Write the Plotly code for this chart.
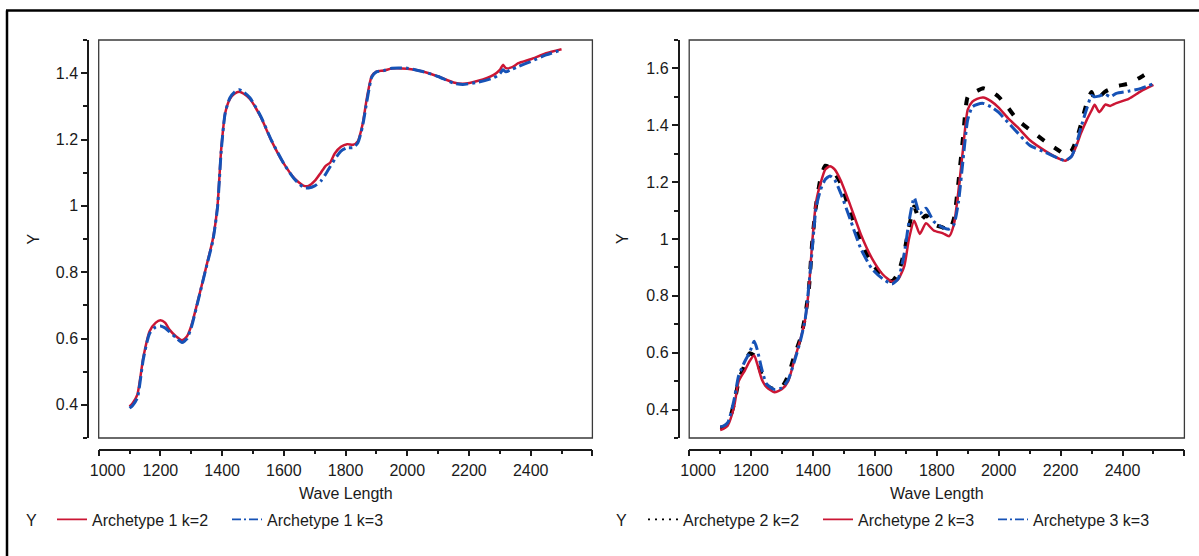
import plotly.graph_objects as go

# ---------------- data ----------------
wl_left = [1100, 1110, 1125, 1145, 1165, 1185, 1200, 1215, 1230, 1250, 1270, 1285, 1300, 1325,
           1350, 1370, 1385, 1397, 1410, 1425, 1440, 1455, 1470, 1490, 1525, 1560, 1600, 1635,
           1665, 1680, 1700, 1720, 1735, 1750, 1765, 1785, 1805, 1825, 1840, 1855, 1870, 1885,
           1900, 1925, 1950, 2000, 2050, 2100, 2150, 2180, 2230, 2280, 2300, 2310, 2320, 2340,
           2360, 2400, 2450, 2500]
arch1_k2 = [0.395, 0.405, 0.43, 0.545, 0.622, 0.648, 0.655, 0.648, 0.626, 0.607, 0.595, 0.605,
            0.638, 0.727, 0.822, 0.90, 1.0, 1.17, 1.28, 1.322, 1.338, 1.344, 1.338, 1.322, 1.268,
            1.196, 1.127, 1.082, 1.06, 1.06, 1.075, 1.10, 1.12, 1.13, 1.158, 1.178, 1.186, 1.184,
            1.195, 1.245, 1.33, 1.392, 1.405, 1.408, 1.414, 1.413, 1.405, 1.39, 1.372, 1.368,
            1.377, 1.395, 1.41, 1.425, 1.415, 1.418, 1.43, 1.442, 1.46, 1.472]
arch1_k3 = [0.39, 0.398, 0.42, 0.54, 0.615, 0.635, 0.638, 0.632, 0.62, 0.603, 0.588, 0.598,
            0.633, 0.725, 0.82, 0.895, 0.995, 1.165, 1.28, 1.325, 1.343, 1.35, 1.343, 1.326, 1.27,
            1.197, 1.127, 1.08, 1.055, 1.054, 1.06, 1.075, 1.095, 1.118, 1.14, 1.165, 1.175, 1.176,
            1.19, 1.24, 1.32, 1.388, 1.404, 1.408, 1.415, 1.415, 1.405, 1.39, 1.37, 1.366,
            1.373, 1.386, 1.398, 1.41, 1.404, 1.412, 1.42, 1.435, 1.455, 1.47]

wl_right = [1100, 1110, 1125, 1145, 1160, 1180, 1195, 1210, 1220, 1235, 1250, 1275, 1300, 1320,
            1340, 1360, 1375, 1387, 1398, 1410, 1425, 1440, 1455, 1470, 1490, 1520, 1555, 1590,
            1625, 1655, 1675, 1695, 1710, 1727, 1745, 1765, 1790, 1820, 1840, 1855, 1870, 1885,
            1900, 1915, 1930, 1950, 1975, 2000, 2030, 2060, 2100, 2150, 2200, 2215, 2235, 2250,
            2265, 2285, 2300, 2310, 2325, 2345, 2360, 2380, 2420, 2460, 2500]
arch2_k2 = [0.335, 0.337, 0.35, 0.422, 0.5, 0.56, 0.598, 0.59, 0.57, 0.52, 0.485, 0.471, 0.48,
            0.52, 0.59, 0.653, 0.73, 0.83, 0.996, 1.12, 1.215, 1.258, 1.25, 1.232, 1.195, 1.095,
            0.99, 0.915, 0.872, 0.852, 0.88, 0.955, 1.04, 1.114, 1.064, 1.083, 1.052, 1.04, 1.03,
            1.07, 1.2, 1.36, 1.5, 1.512, 1.521, 1.53, 1.52, 1.5, 1.462, 1.42, 1.385, 1.343, 1.307,
            1.296, 1.31, 1.345, 1.4, 1.48, 1.517, 1.49, 1.5, 1.519, 1.527, 1.537, 1.547, 1.57, 1.598]
arch2_k3 = [0.328, 0.332, 0.345, 0.41, 0.50, 0.538, 0.57, 0.59, 0.56, 0.505, 0.479, 0.461, 0.472,
            0.50, 0.575, 0.65, 0.72, 0.83, 0.995, 1.13, 1.198, 1.245, 1.256, 1.245, 1.205, 1.12,
            1.015, 0.933, 0.876, 0.85, 0.858, 0.905, 1.0, 1.064, 1.018, 1.055, 1.03, 1.02, 1.01,
            1.05, 1.17, 1.32, 1.455, 1.483, 1.493, 1.498, 1.485, 1.462, 1.425, 1.394, 1.348, 1.31,
            1.28, 1.275, 1.29, 1.325, 1.37, 1.42, 1.452, 1.472, 1.446, 1.473, 1.468, 1.478, 1.493,
            1.52, 1.542]
arch3_k3 = [0.34, 0.342, 0.355, 0.435, 0.52, 0.57, 0.6, 0.64, 0.61, 0.54, 0.49, 0.471, 0.477,
            0.505, 0.57, 0.645, 0.72, 0.84, 0.97, 1.11, 1.175, 1.21, 1.222, 1.208, 1.16, 1.07,
            0.965, 0.896, 0.86, 0.842, 0.86, 0.95, 1.06, 1.145, 1.089, 1.108, 1.062, 1.04, 1.035,
            1.05, 1.13, 1.28, 1.42, 1.465, 1.473, 1.477, 1.465, 1.445, 1.41, 1.375, 1.33, 1.305,
            1.28, 1.276, 1.29, 1.33, 1.39, 1.46, 1.505, 1.5, 1.503, 1.509, 1.5, 1.512, 1.52,
            1.53, 1.546]

x_tickvals = [1000, 1200, 1400, 1600, 1800, 2000, 2200, 2400, 2600]
x_ticktext = ["\u2007\u20071000", "1200", "1400", "1600", "1800", "2000", "2200", "2400", ""]
yl_tickvals = [0.4, 0.6, 0.8, 1.0, 1.2, 1.4]
yl_ticktext = ["0.4", "0.6", "0.8", "1", "1.2", "1.4"]
yr_tickvals = [0.4, 0.6, 0.8, 1.0, 1.2, 1.4, 1.6]
yr_ticktext = ["0.4", "0.6", "0.8", "1", "1.2", "1.4", "1.6"]

# ---------------- styling ----------------
W, H = 1199, 556
FONT = "Liberation Sans, Arial, sans-serif"
TXT = "#1a1a1a"
RED = "#CB1634"
BLUE = "#1652B6"
BLACK = "#000000"
DASHDOT = "12px,4px,3px,4px"

def px(x):
    return x / W

def py(y):
    return 1 - y / H

frame_top, frame_bot = 40, 438
left_x0, left_x1 = 98.7, 592.4
right_x0, right_x1 = 689.2, 1184.4
legend_y = 519.5

fig = go.Figure()

def curve(x, y, color, width, dash, xa, ya):
    return go.Scatter(x=x, y=y, mode="lines", showlegend=False, hoverinfo="x+y",
                      line=dict(color=color, width=width, dash=dash,
                                shape="spline", smoothing=0.6),
                      xaxis=xa, yaxis=ya)

def key(name, color, dash, lg):
    # legend entry (drawn thin, like the reference key)
    return go.Scatter(x=[None], y=[None], mode="lines", name=name,
                      line=dict(color=color, width=1.6, dash=dash),
                      xaxis="x", yaxis="y", legend=lg)

# left panel
fig.add_trace(curve(wl_left, arch1_k2, RED, 2.5, "solid", "x", "y"))
fig.add_trace(curve(wl_left, arch1_k3, BLUE, 3, DASHDOT, "x", "y"))
# right panel
fig.add_trace(curve(wl_right, arch2_k2, BLACK, 4, "8px,12px", "x2", "y2"))
fig.add_trace(curve(wl_right, arch2_k3, RED, 2.5, "solid", "x2", "y2"))
fig.add_trace(curve(wl_right, arch3_k3, BLUE, 3, DASHDOT, "x2", "y2"))

# legend keys
fig.add_trace(key("Archetype 1 k=2", RED, "solid", "legend"))
fig.add_trace(key("Archetype 1 k=3", BLUE, "9px,3px,2px,3px", "legend"))
fig.add_trace(key("Archetype 2 k=2", BLACK, "2px,5px", "legend2"))
fig.add_trace(key("Archetype 2 k=3", RED, "solid", "legend2"))
fig.add_trace(key("Archetype 3 k=3", BLUE, "9px,3px,2px,3px", "legend2"))

tickfont = dict(family=FONT, size=16, color=TXT)

def xaxis_cfg(x0, x1):
    return dict(domain=[px(x0), px(x1)], anchor="free", position=py(449.6),
                range=[1000, 2600], tickvals=x_tickvals, ticktext=x_ticktext,
                ticks="outside", ticklen=6, tickwidth=1.5, tickcolor=TXT,
                minor=dict(dtick=100, tick0=1000, ticks="outside", ticklen=4,
                           tickwidth=1.5, tickcolor=TXT),
                showline=True, linecolor=TXT, linewidth=1.5, showgrid=False,
                zeroline=False, tickfont=tickfont, fixedrange=True, automargin=False)

def yaxis_cfg(pos, rng, tv, tt):
    return dict(domain=[py(frame_bot), py(frame_top)], anchor="free", position=px(pos),
                range=rng, tickvals=tv, ticktext=tt,
                ticks="outside", ticklen=6, tickwidth=1.5, tickcolor=TXT,
                minor=dict(dtick=0.1, tick0=0.3, ticks="outside", ticklen=4,
                           tickwidth=1.5, tickcolor=TXT),
                showline=True, linecolor=TXT, linewidth=1.5, showgrid=False,
                zeroline=False, tickfont=tickfont, fixedrange=True, automargin=False)

legend_common = dict(orientation="h", yanchor="middle", y=py(legend_y), xanchor="left",
                     font=dict(family=FONT, size=16, color=TXT),
                     bgcolor="rgba(0,0,0,0)", borderwidth=0,
                     entrywidth=130, entrywidthmode="pixels", itemclick=False,
                     itemdoubleclick=False)

fig.update_layout(
    template="none",
    width=W, height=H, margin=dict(l=0, r=0, t=0, b=0, autoexpand=False),
    paper_bgcolor="white", plot_bgcolor="white",
    font=dict(family=FONT, size=16, color=TXT),
    xaxis=xaxis_cfg(left_x0, left_x1),
    yaxis=yaxis_cfg(88, [0.3, 1.5], yl_tickvals, yl_ticktext),
    xaxis2=xaxis_cfg(right_x0, right_x1),
    yaxis2=yaxis_cfg(678.5, [0.3, 1.7], yr_tickvals, yr_ticktext),
    legend=dict(x=px(52), **legend_common),
    legend2=dict(x=px(643), **legend_common),
    showlegend=True,
)

shapes = []
# plot frames
for x0, x1 in [(left_x0, left_x1), (right_x0, right_x1)]:
    shapes.append(dict(type="rect", xref="paper", yref="paper",
                       x0=px(x0), x1=px(x1), y0=py(frame_bot), y1=py(frame_top),
                       line=dict(color="#3a3a3a", width=1.3), layer="above"))
# outer border (top and left edges)
shapes.append(dict(type="line", xref="paper", yref="paper", x0=px(6), x1=1,
                   y0=py(10.5), y1=py(10.5), line=dict(color="black", width=2.5)))
shapes.append(dict(type="line", xref="paper", yref="paper", x0=px(7), x1=px(7),
                   y0=py(10.5), y1=0, line=dict(color="black", width=2.5)))
fig.update_layout(shapes=shapes)

annots = []
for cx in [(left_x0 + left_x1) / 2, (right_x0 + right_x1) / 2]:
    annots.append(dict(text="Wave Length", xref="paper", yref="paper", x=px(cx), y=py(493),
                       xanchor="center", yanchor="middle", showarrow=False,
                       font=dict(family=FONT, size=16, color=TXT)))
for cx in [32.5, 622]:
    annots.append(dict(text="Y", xref="paper", yref="paper", x=px(cx),
                       y=py((frame_top + frame_bot) / 2), textangle=-90,
                       xanchor="center", yanchor="middle", showarrow=False,
                       font=dict(family=FONT, size=16, color=TXT)))
# legend row labels
for cx in [31, 621]:
    annots.append(dict(text="Y", xref="paper", yref="paper", x=px(cx), y=py(legend_y + 1),
                       xanchor="center", yanchor="middle", showarrow=False,
                       font=dict(family=FONT, size=16, color=TXT)))
fig.update_layout(annotations=annots)

fig.write_html("out.html")
